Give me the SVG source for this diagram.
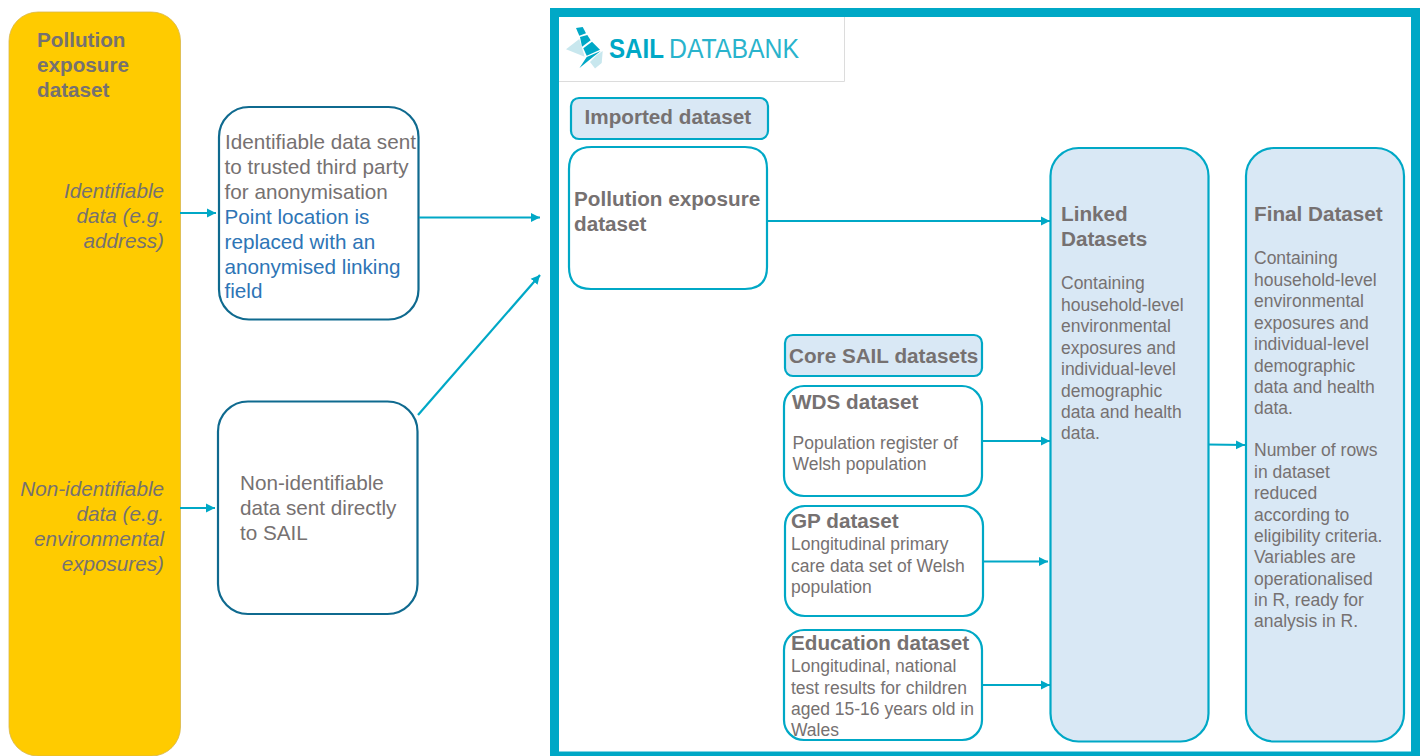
<svg xmlns="http://www.w3.org/2000/svg" width="1425" height="756" viewBox="0 0 1425 756">
<style>
text{font-family:"Liberation Sans",Arial,sans-serif;fill:#767171}
.b{font-weight:700}
.i{font-style:italic}
.s20{font-size:20.7px}
.s19{font-size:20.7px}
.s17{font-size:17.500px}
.blue{fill:#2e75b6}
.box{fill:#fff;stroke:#00a8c6;stroke-width:2.2}
.dark{fill:#fff;stroke:#0f6a8f;stroke-width:2.2}
.lt{fill:#d9e8f5;stroke:#00a8c6;stroke-width:2.2}
.c{fill:none;stroke:#00a8c6;stroke-width:2.2;marker-end:url(#a)}
.e{text-anchor:end}
</style>
<defs>
<marker id="a" markerUnits="userSpaceOnUse" markerWidth="10" markerHeight="10" refX="9" refY="5" orient="auto"><path d="M0 0.500L9 5L0 9.500z" fill="#00a8c6"/></marker>
</defs>
<rect width="1425" height="756" fill="#fff"/>
<g id="pollution-source">
<rect x="9" y="12" width="171.500" height="744" rx="29" fill="#ffcb00" stroke="#d8b64a" stroke-width="0.800"/>
<text class="b s20" x="37" y="47">Pollution</text>
<text class="b s20" x="37" y="72">exposure</text>
<text class="b s20" x="37" y="97">dataset</text>
<text class="i s20 e" x="164" y="198">Identifiable</text>
<text class="i s20 e" x="164" y="223">data (e.g.</text>
<text class="i s20 e" x="164" y="248">address)</text>
<text class="i s20 e" x="164" y="496">Non-identifiable</text>
<text class="i s20 e" x="164" y="521">data (e.g.</text>
<text class="i s20 e" x="164" y="546">environmental</text>
<text class="i s20 e" x="164" y="571">exposures)</text>
</g>
<g id="identifiable-box">
<rect class="dark" x="219" y="107" width="199.500" height="212.500" rx="30"/>
<text class="s19" x="225" y="149">Identifiable data sent</text>
<text class="s19" x="224.500" y="174">to trusted third party</text>
<text class="s19" x="224.500" y="199">for anonymisation</text>
<text class="s19 blue" x="224.500" y="224">Point location is</text>
<text class="s19 blue" x="224.500" y="249">replaced with an</text>
<text class="s19 blue" x="224.500" y="274">anonymised linking</text>
<text class="s19 blue" x="224.500" y="298">field</text>
</g>
<g id="non-identifiable-box">
<rect class="dark" x="218" y="401.500" width="199.500" height="212.500" rx="30"/>
<text class="s19" x="240" y="490">Non-identifiable</text>
<text class="s19" x="240" y="515">data sent directly</text>
<text class="s19" x="240" y="540">to SAIL</text>
</g>
<g id="sail-frame">
<rect x="554.500" y="12.500" width="861" height="743.500" fill="#fff" stroke="#00a8c6" stroke-width="9"/>
</g>
<g id="sail-logo">
<path d="M559 81.500H844.500V17" fill="none" stroke="#dcdcdc" stroke-width="1"/>
<path d="M566 49.300L579.300 39L584.700 56.700Z" fill="#c8e7ee"/>
<path d="M596.700 55L602.700 51L601.700 63L595 68.500L590 62Z" fill="#c8e7ee"/>
<path d="M576 28L582.700 27L586 33.300L579.300 35.700Z" fill="#00a8c6"/>
<path d="M580 37L587.300 35L590.700 40.300L582 46.700Z" fill="#00a8c6"/>
<path d="M583.300 48.300L592 41.700L600 49.700L586.700 55.700Z" fill="#00a8c6"/>
<path d="M586.700 57L600.700 51L593 57L579.500 68Z" fill="#00a8c6"/>
<text x="609" y="58" font-size="27" font-weight="700" textLength="55" lengthAdjust="spacingAndGlyphs" style="fill:#00a8c6">SAIL</text>
<text x="669" y="58" font-size="27" textLength="130" lengthAdjust="spacingAndGlyphs" style="fill:#29b3cc">DATABANK</text>
</g>
<g id="imported-label">
<rect class="lt" x="571" y="98" width="197" height="41" rx="8"/>
<text class="b s20" x="584.500" y="124">Imported dataset</text>
</g>
<g id="imported-dataset">
<path d="M592 147H745Q767 147 767 169V267Q767 289 745 289H591Q569 289 569 267V169Q569 147 592 147Z" class="box"/>
<text class="b s20" x="574" y="206">Pollution exposure</text>
<text class="b s20" x="574" y="231">dataset</text>
</g>
<g id="core-label">
<rect class="lt" x="785" y="335" width="197" height="41" rx="8"/>
<text class="b s20" x="789" y="362.500">Core SAIL datasets</text>
</g>
<g id="wds-dataset">
<rect class="box" x="784" y="386" width="198" height="110" rx="20"/>
<text class="b s20" x="792" y="409">WDS dataset</text>
<text class="s17" x="792.500" y="449">Population register of</text>
<text class="s17" x="792.500" y="470">Welsh population</text>
</g>
<g id="gp-dataset">
<rect class="box" x="785" y="506" width="198" height="110" rx="20"/>
<text class="b s20" x="791" y="528">GP dataset</text>
<text class="s17" x="791" y="550">Longitudinal primary</text>
<text class="s17" x="791" y="572">care data set of Welsh</text>
<text class="s17" x="791" y="593">population</text>
</g>
<g id="education-dataset">
<rect class="box" x="784" y="630" width="198" height="110" rx="20"/>
<text class="b s20" x="791" y="650">Education dataset</text>
<text class="s17" x="791" y="672">Longitudinal, national</text>
<text class="s17" x="791" y="693.500">test results for children</text>
<text class="s17" x="791" y="715">aged 15-16 years old in</text>
<text class="s17" x="791" y="736">Wales</text>
</g>
<g id="linked-datasets">
<rect class="lt" x="1050.500" y="148" width="158" height="593.500" rx="28"/>
<text class="b s20" x="1061" y="221">Linked</text>
<text class="b s20" x="1061" y="246">Datasets</text>
<text class="s17" x="1061" y="289">Containing</text>
<text class="s17" x="1061" y="310.500">household-level</text>
<text class="s17" x="1061" y="332">environmental</text>
<text class="s17" x="1061" y="353.500">exposures and</text>
<text class="s17" x="1061" y="375">individual-level</text>
<text class="s17" x="1061" y="396.500">demographic</text>
<text class="s17" x="1061" y="417.500">data and health</text>
<text class="s17" x="1061" y="439">data.</text>
</g>
<g id="final-dataset">
<rect class="lt" x="1246" y="148" width="158" height="593.500" rx="28"/>
<text class="b s20" x="1254" y="221">Final Dataset</text>
<text class="s17" x="1254" y="264">Containing</text>
<text class="s17" x="1254" y="285.500">household-level</text>
<text class="s17" x="1254" y="307">environmental</text>
<text class="s17" x="1254" y="328.500">exposures and</text>
<text class="s17" x="1254" y="350">individual-level</text>
<text class="s17" x="1254" y="371.500">demographic</text>
<text class="s17" x="1254" y="392.500">data and health</text>
<text class="s17" x="1254" y="414">data.</text>
<text class="s17" x="1254" y="456">Number of rows</text>
<text class="s17" x="1254" y="477.500">in dataset</text>
<text class="s17" x="1254" y="499">reduced</text>
<text class="s17" x="1254" y="520.500">according to</text>
<text class="s17" x="1254" y="542">eligibility criteria.</text>
<text class="s17" x="1254" y="563">Variables are</text>
<text class="s17" x="1254" y="584.500">operationalised</text>
<text class="s17" x="1254" y="606">in R, ready for</text>
<text class="s17" x="1254" y="627">analysis in R.</text>
</g>
<g id="connectors">
<path class="c" d="M180 213H216"/>
<path class="c" d="M180 508H215"/>
<path class="c" d="M419 217.500H540"/>
<path class="c" d="M418 415L540 275"/>
<path class="c" d="M767 221H1050"/>
<path class="c" d="M983 441H1050"/>
<path class="c" d="M982 561.500H1048"/>
<path class="c" d="M982 685H1050"/>
<path class="c" d="M1208 444.500L1245 445"/>
</g>
</svg>
